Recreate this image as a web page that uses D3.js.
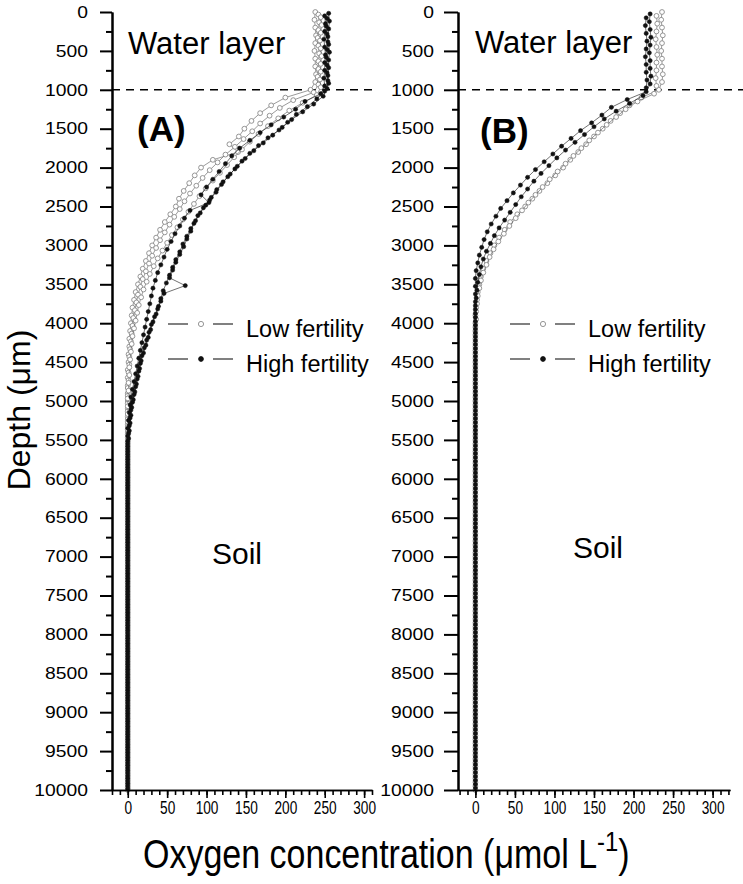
<!DOCTYPE html>
<html>
<head>
<meta charset="utf-8">
<script src="https://cdn.jsdelivr.net/npm/d3@7"></script>
<style>
  html, body { margin: 0; padding: 0; background: #fff; }
  svg { display: block; font-family: "Liberation Sans", Arial, sans-serif; }
</style>
</head>
<body>
<svg id="chart" width="743" height="884"></svg>
<script>
// ---------------- DATA ----------------
// Oxygen concentration (µmol L-1) sampled every 100 µm from 0 to 10000 µm depth
const depthStep = 100;
const depthMax = 10000;
const xTickValues = [0, 50, 100, 150, 200, 250, 300];
const yTickValues = d3.range(0, 10001, 500);
const legendLabels = ["Low fertility", "High fertility"];

// Panel A – low fertility replicates
const lowA1 = [238,237,238,239,238,237,238,238,239,238, 232,200,182,168,157,148,141,129,140,108,
  93,85,78,71,65,61,54,47,41,36, 31,27,23,19,16,13,10,8,6,5, 4,3,2,2,1,1,
  0,0,0,0,0,0,0,0,0,0, 0,0,0,0,0,0,0,0,0,0, 0,0,0,0,0,0,0,0,0,0, 0,0,0,0,0,0,0,0,0,0, 0,0,0,0,0,0,0,0,0,0, 0,0,0,0,0];
const lowA2 = [242,243,242,241,242,243,242,242,241,242, 236,210,193,180,168,158,147,136,124,114,
  104,95,87,79,72,66,59,53,47,41, 36,31,27,23,19,16,13,11,9,7, 6,5,4,3,2,2,1,1,
  0,0,0,0,0,0,0,0,0,0, 0,0,0,0,0,0,0,0,0,0, 0,0,0,0,0,0,0,0,0,0, 0,0,0,0,0,0,0,0,0,0, 0,0,0,0,0,0,0,0,0,0, 0,0,0];
const lowA3 = [245,246,245,244,245,246,245,245,244,245, 240,222,205,191,178,166,155,145,135,126,
  117,108,99,91,84,77,70,63,56,50, 44,38,33,28,24,20,17,14,12,10, 8,6,5,4,3,2,2,1,1,
  0,0,0,0,0,0,0,0,0,0, 0,0,0,0,0,0,0,0,0,0, 0,0,0,0,0,0,0,0,0,0, 0,0,0,0,0,0,0,0,0,0, 0,0,0,0,0,0,0,0,0,0, 0,0];
// Panel A – high fertility replicates
const highA1 = [255,256,255,254,255,256,255,255,254,255, 250,240,228,214,203,192,178,166,155,145,
  136,127,119,112,104,96,89,84,80,75, 71,66,61,57,53,73,46,42,38,34, 30,27,24,21,18,16,14,12,10,8, 6,4,3,2,1,
  0,0,0,0,0,0,0,0,0,0, 0,0,0,0,0,0,0,0,0,0, 0,0,0,0,0,0,0,0,0,0, 0,0,0,0,0,0,0,0,0,0, 0,0,0,0,0,0];
const highA2 = [250,251,250,249,250,251,250,250,249,250, 245,225,213,198,182,168,155,142,132,124,
  116,108,100,93,103,79,72,66,60,55, 50,46,42,38,35,32,30,28,26,24, 22,20,18,16,14,12,10,8,6,4, 3,2,1,
  0,0,0,0,0,0,0,0,0,0, 0,0,0,0,0,0,0,0,0,0, 0,0,0,0,0,0,0,0,0,0, 0,0,0,0,0,0,0,0,0,0, 0,0,0,0,0,0,0,0];
const highA3 = [253,252,253,254,253,252,253,253,254,253, 248,236,222,208,196,184,172,160,149,139,
  130,121,113,106,99,92,86,80,75,70, 66,61,57,53,49,45,42,39,36,32, 29,26,23,20,17,15,13,11,9,7, 5,4,3,2,1,
  0,0,0,0,0,0,0,0,0,0, 0,0,0,0,0,0,0,0,0,0, 0,0,0,0,0,0,0,0,0,0, 0,0,0,0,0,0,0,0,0,0, 0,0,0,0,0,0];

// Panel B – low fertility replicates
const lowB1 = [236,235,236,237,236,235,236,236,237,236, 232,210,195,183,171,161,150,140,130,120,
  111,101,91,81,72,63,53,44,37,30, 24,19,14,10,7,5,3,2,1,
  0,0,0,0,0,0,0,0,0,0, 0,0,0,0,0,0,0,0,0,0, 0,0,0,0,0,0,0,0,0,0, 0,0,0,0,0,0,0,0,0,0, 0,0,0,0,0,0,0,0,0,0, 0,0,0,0,0,0,0,0,0,0, 0,0];
const lowB2 = [229,230,229,228,229,230,229,229,228,229, 226,205,190,178,166,155,144,134,124,114,
  104,94,85,76,67,59,51,43,36,29, 23,18,14,10,7,5,3,2,1,1,
  0,0,0,0,0,0,0,0,0,0, 0,0,0,0,0,0,0,0,0,0, 0,0,0,0,0,0,0,0,0,0, 0,0,0,0,0,0,0,0,0,0, 0,0,0,0,0,0,0,0,0,0, 0,0,0,0,0,0,0,0,0,0, 0];
// Panel B – high fertility replicates
const highB1 = [221,220,221,222,221,220,221,221,222,221, 216,192,172,160,147,133,121,109,98,87,
  76,66,57,48,40,32,26,20,15,11, 8,5,3,1,
  0,0,0,0,0,0,0,0,0,0, 0,0,0,0,0,0,0,0,0,0, 0,0,0,0,0,0,0,0,0,0, 0,0,0,0,0,0,0,0,0,0, 0,0,0,0,0,0,0,0,0,0, 0,0,0,0,0,0,0,0,0,0, 0,0,0,0,0,0,0];
const highB2 = [216,215,216,217,216,215,216,216,217,216, 212,195,178,163,150,138,126,114,103,93,
  83,74,66,58,51,44,37,30,24,19, 14,10,7,5,3,2,1,
  0,0,0,0,0,0,0,0,0,0, 0,0,0,0,0,0,0,0,0,0, 0,0,0,0,0,0,0,0,0,0, 0,0,0,0,0,0,0,0,0,0, 0,0,0,0,0,0,0,0,0,0, 0,0,0,0,0,0,0,0,0,0, 0,0,0,0];

// ---------------- DRAW ----------------
const svg = d3.select("#chart");
const yTop = 12, yBottom = 790;
const y = d3.scaleLinear().domain([0, depthMax]).range([yTop, yBottom]);
const fmt = d3.format("d");

const panels = [
  { label: "(A)", x: d3.scaleLinear().domain([-20, 310]).range([112, 372]),
    minorX: d3.range(-20, 311, 10), dashEnd: 372,
    low: [[lowA1, 0], [lowA2, 33], [lowA3, 67]], high: [[highA1, 17], [highA2, 50], [highA3, 83]],
    labelPos: [137, 141], waterPos: [128, 54], soilPos: [212, 564], legendPos: [168, 324], yTickLen: 12 },
  { label: "(B)", x: d3.scaleLinear().domain([-22, 322]).range([458, 730]),
    minorX: d3.range(-20, 321, 10), dashEnd: 743,
    low: [[lowB1, 0], [lowB2, 50]], high: [[highB1, 25], [highB2, 75]],
    labelPos: [480, 143], waterPos: [475, 53], soilPos: [573, 558], legendPos: [510, 324], yTickLen: 14 }
];

const toPoints = (vals, offset) => vals.map((v, i) => ({ d: i * depthStep + offset, v })).filter(p => p.d <= depthMax);

panels.forEach(p => {
  const g = svg.append("g");
  const x = p.x;
  const x0 = x.range()[0];

  // dashed water/soil boundary
  g.append("line").attr("x1", x0).attr("x2", p.dashEnd).attr("y1", y(1000)).attr("y2", y(1000))
    .attr("stroke", "#000").attr("stroke-width", 1.5).attr("stroke-dasharray", "8,6");

  // series
  const line = d3.line().x(d => x(d.v)).y(d => y(d.d));
  const drawSeries = (list, isLow) => {
    list.forEach(([vals, off]) => {
      const pts = toPoints(vals, off);
      g.append("path").datum(pts).attr("d", line).attr("fill", "none")
        .attr("stroke", isLow ? "#555" : "#111").attr("stroke-width", 0.6);
      g.append("g").selectAll("circle").data(pts).join("circle")
        .attr("cx", d => x(d.v)).attr("cy", d => y(d.d))
        .attr("r", isLow ? 2.4 : 2.1)
        .attr("fill", isLow ? "#fff" : "#111")
        .attr("stroke", isLow ? "#8a8a8a" : "#111")
        .attr("stroke-width", isLow ? 0.9 : 0.5);
    });
  };
  drawSeries(p.low, true);
  drawSeries(p.high, false);

  // y axis (minor + major)
  const yMinor = g.append("g").attr("transform", `translate(${x0},0)`)
    .call(d3.axisLeft(y).tickValues(d3.range(250, 10000, 500)).tickSize(6).tickSizeOuter(0).tickFormat(""));
  const yMajor = g.append("g").attr("transform", `translate(${x0},0)`)
    .call(d3.axisLeft(y).tickValues(yTickValues).tickSize(p.yTickLen).tickSizeOuter(0)
      .tickPadding(24 - p.yTickLen).tickFormat(fmt));
  [yMinor, yMajor].forEach(a => {
    a.selectAll("path, line").attr("stroke", "#000").attr("stroke-width", 2);
  });
  yMajor.selectAll("text").attr("font-size", 16.5).attr("fill", "#000")
    .attr("font-family", "'Liberation Sans', Arial, sans-serif")
    .attr("x", 0).attr("transform", "translate(-24,0) scale(1.17,1)");

  // x axis (minor + major)
  const xMinor = g.append("g").attr("transform", `translate(0,${yBottom})`)
    .call(d3.axisBottom(x).tickValues(p.minorX).tickSize(5).tickSizeOuter(0).tickFormat(""));
  const xMajor = g.append("g").attr("transform", `translate(0,${yBottom})`)
    .call(d3.axisBottom(x).tickValues(xTickValues).tickSize(8).tickSizeOuter(0).tickPadding(3).tickFormat(fmt));
  [xMinor, xMajor].forEach(a => {
    a.selectAll("path, line").attr("stroke", "#000").attr("stroke-width", 1.6);
  });
  xMajor.selectAll("text").attr("font-size", 19).attr("fill", "#000")
    .attr("font-family", "'Liberation Sans', Arial, sans-serif")
    .attr("transform", "scale(0.72,1)");

  // annotations
  g.append("text").attr("x", p.waterPos[0]).attr("y", p.waterPos[1]).attr("font-size", 31).text("Water layer");
  g.append("text").attr("x", p.labelPos[0]).attr("y", p.labelPos[1]).attr("font-size", 35)
    .attr("font-weight", "bold").text(p.label);
  g.append("text").attr("x", p.soilPos[0]).attr("y", p.soilPos[1]).attr("font-size", 30).text("Soil");

  // legend
  const [lx, ly] = p.legendPos;
  legendLabels.forEach((lab, i) => {
    const yy = ly + i * 35;
    const isLow = i === 0;
    g.append("line").attr("x1", lx).attr("x2", lx + 20).attr("y1", yy).attr("y2", yy)
      .attr("stroke", "#808080").attr("stroke-width", 2);
    g.append("line").attr("x1", lx + 45).attr("x2", lx + 65).attr("y1", yy).attr("y2", yy)
      .attr("stroke", "#808080").attr("stroke-width", 2);
    g.append("circle").attr("cx", lx + 33).attr("cy", yy).attr("r", isLow ? 2.6 : 2.4)
      .attr("fill", isLow ? "#fff" : "#111").attr("stroke", isLow ? "#8a8a8a" : "#111").attr("stroke-width", 0.9);
    g.append("text").attr("x", lx + 78).attr("y", yy + 13).attr("font-size", 23.5).text(lab);
  });
});

// axis titles
svg.append("text").attr("transform", "translate(30,410) rotate(-90)").attr("text-anchor", "middle")
  .attr("font-size", 32).text("Depth (\u03BCm)");

const xt = svg.append("text").attr("transform", "translate(143,868) scale(0.85,1)").attr("font-size", 40);
xt.append("tspan").text("Oxygen concentration (\u03BCmol L");
xt.append("tspan").attr("font-size", 28).attr("dy", -17).text("-1");
xt.append("tspan").attr("dy", 17).text(")");
</script>
</body>
</html>
